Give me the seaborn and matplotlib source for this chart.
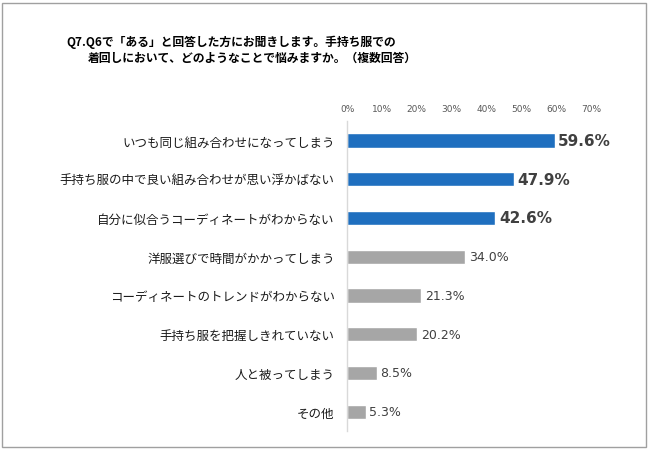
import matplotlib
matplotlib.use("Agg")
import matplotlib.pyplot as plt
import seaborn as sns
import pandas as pd
from matplotlib.patches import Rectangle

categories = [
    "いつも同じ組み合わせになってしまう",
    "手持ち服の中で良い組み合わせが思い浮かばない",
    "自分に似合うコーディネートがわからない",
    "洋服選びで時間がかかってしまう",
    "コーディネートのトレンドがわからない",
    "手持ち服を把握しきれていない",
    "人と被ってしまう",
    "その他",
]
values = [59.6, 47.9, 42.6, 34.0, 21.3, 20.2, 8.5, 5.3]
highlight = [True, True, True, False, False, False, False, False]
xticks = [0, 10, 20, 30, 40, 50, 60, 70]
xtick_labels = ["0%", "10%", "20%", "30%", "40%", "50%", "60%", "70%"]
title_line1 = "Q7.Q6で「ある」と回答した方にお聞きします。手持ち服での"
title_line2 = "着回しにおいて、どのようなことで悩みますか。（複数回答）"

sns.set_theme(style="white")
plt.rcParams['font.family'] = ['Noto Sans CJK JP', 'DejaVu Sans']

BLUE = "#1F6FBF"
GRAY = "#A6A6A6"

df = pd.DataFrame({"cat": categories, "val": values})
palette = [BLUE if h else GRAY for h in highlight]

fig = plt.figure(figsize=(6.5, 4.52), dpi=100)
ax = fig.add_axes([0.534, 0.044, 0.375, 0.686])
sns.barplot(data=df, y="cat", x="val", hue="cat", palette=palette, legend=False,
            orient="h", width=0.37, ax=ax, saturation=1)

ax.set_xlim(0, 70)
ax.set_ylim(7.5, -0.5)
ax.set_xlabel("")
ax.set_ylabel("")
ax.xaxis.tick_top()
ax.set_xticks(xticks)
ax.set_xticklabels(xtick_labels, fontsize=6.5, color="#595959", family=['DejaVu Sans'])
ax.tick_params(axis="x", length=0, pad=6)
ax.tick_params(axis="y", length=0, pad=9, labelsize=9, labelcolor="#1a1a1a")
for s in ["top", "right", "bottom"]:
    ax.spines[s].set_visible(False)
ax.spines["left"].set_color("#D9D9D9")
ax.spines["left"].set_linewidth(1)

for i, (v, h) in enumerate(zip(values, highlight)):
    if h:
        ax.text(v + 1.0, i, f"{v:.1f}%", va="center", ha="left", fontsize=11,
                fontweight="bold", color="#404040", family=['DejaVu Sans'])
    else:
        ax.text(v + 1.0, i, f"{v:.1f}%", va="center", ha="left", fontsize=9,
                color="#404040", family=['DejaVu Sans'])

fig.text(66 / 650, 1 - 42 / 452, title_line1, fontsize=8.5, fontweight="bold",
         va="center", ha="left", color="#000000")
fig.text(88 / 650, 1 - 58 / 452, title_line2, fontsize=8.5, fontweight="bold",
         va="center", ha="left", color="#000000")

fig.patches.append(Rectangle((2 / 650, 4 / 452), 644 / 650, 444 / 452,
                             transform=fig.transFigure, fill=False,
                             edgecolor="#A0A0A0", linewidth=1))

fig.savefig("out.png", dpi=100)
